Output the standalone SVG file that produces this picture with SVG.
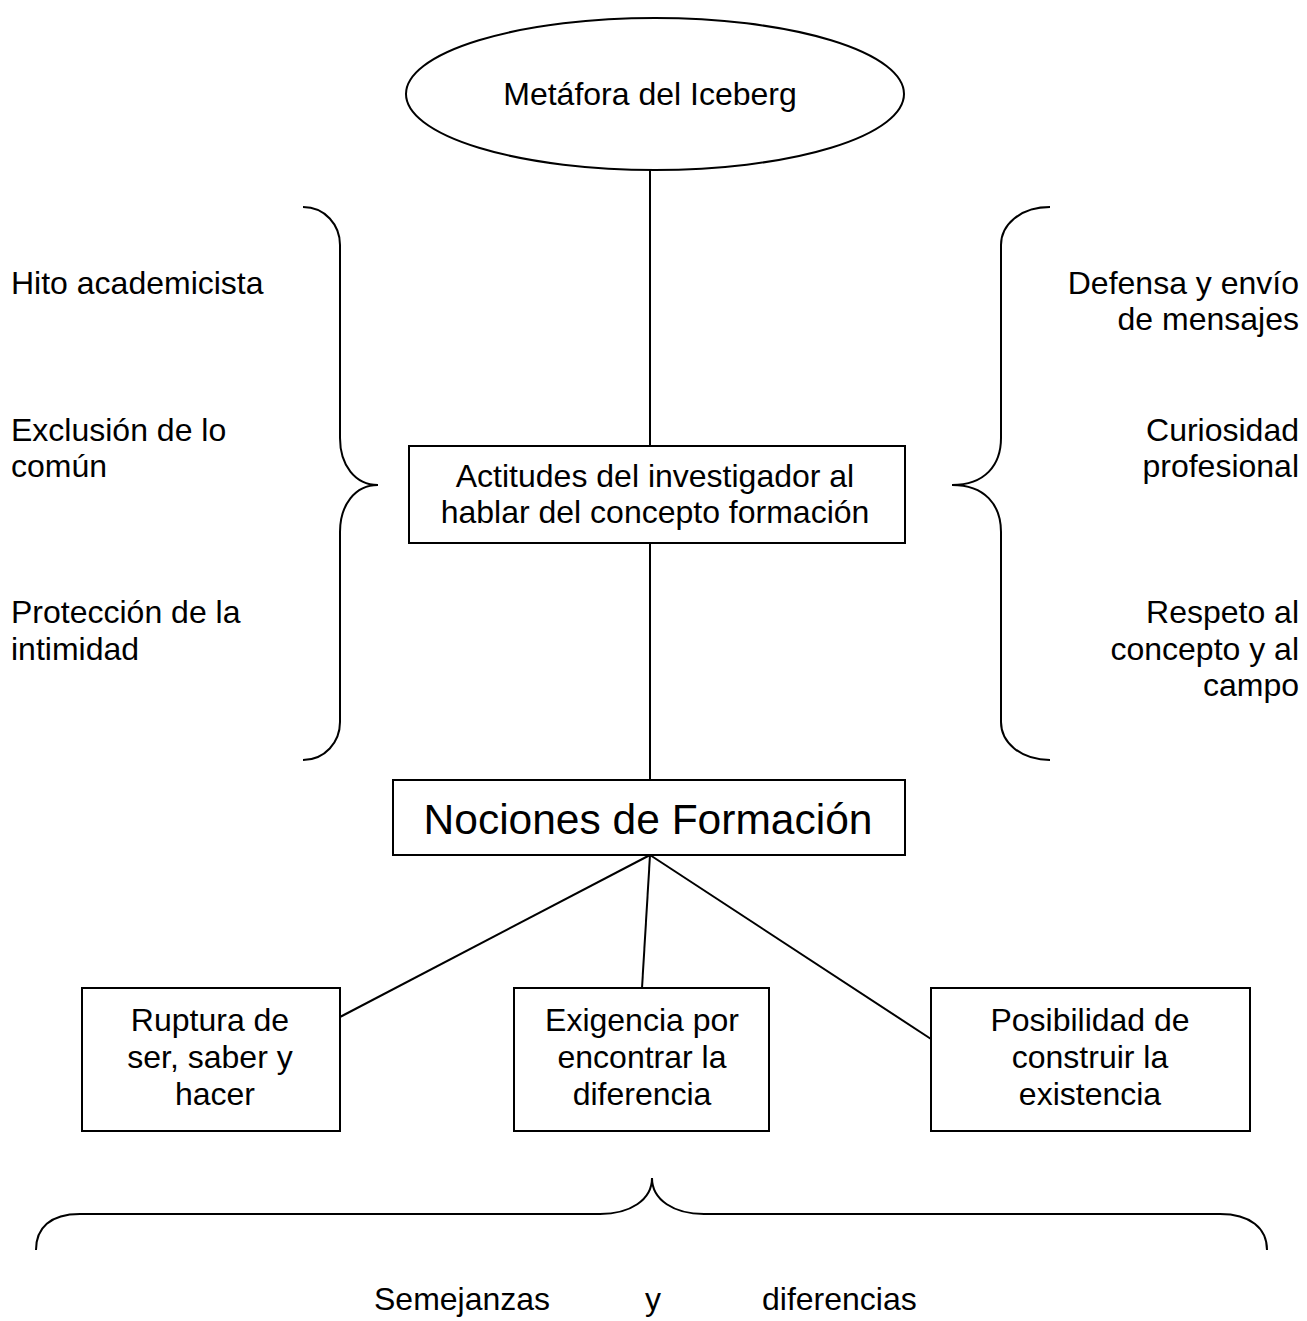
<svg xmlns="http://www.w3.org/2000/svg" width="1307" height="1321" viewBox="0 0 1307 1321">
<style>
.s{fill:none;stroke:#000;stroke-width:2}
.b{fill:#fff;stroke:#000;stroke-width:2}
text{font-family:"Liberation Sans",Arial,sans-serif;font-size:32px;fill:#000}
.c{text-anchor:middle}
.r{text-anchor:end}
</style>
<rect width="1307" height="1321" fill="#fff"/>
<g id="connectors">
<line class="s" x1="650" y1="170" x2="650" y2="446"/>
<line class="s" x1="650" y1="543" x2="650" y2="780"/>
<line class="s" x1="650" y1="855" x2="340" y2="1017"/>
<line class="s" x1="650" y1="855" x2="642" y2="988"/>
<line class="s" x1="650" y1="855" x2="931" y2="1039"/>
</g>
<g id="iceberg">
<ellipse class="b" cx="655" cy="94" rx="249" ry="76"/>
<text class="c" x="650" y="105">Metáfora del Iceberg</text>
</g>
<g id="actitudes">
<rect class="b" x="409" y="446" width="496" height="97"/>
<text class="c" x="655" y="487">Actitudes del investigador al</text>
<text class="c" x="655" y="523">hablar del concepto formación</text>
</g>
<g id="nociones">
<rect class="b" x="393" y="780" width="512" height="75"/>
<text class="c" x="648" y="834" style="font-size:42.5px">Nociones de Formación</text>
</g>
<g id="ruptura">
<rect class="b" x="82" y="988" width="258" height="143"/>
<text class="c" x="210" y="1031">Ruptura de</text>
<text class="c" x="210" y="1068">ser, saber y</text>
<text class="c" x="215" y="1105">hacer</text>
</g>
<g id="exigencia">
<rect class="b" x="514" y="988" width="255" height="143"/>
<text class="c" x="642" y="1031">Exigencia por</text>
<text class="c" x="642" y="1068">encontrar la</text>
<text class="c" x="642" y="1105">diferencia</text>
</g>
<g id="posibilidad">
<rect class="b" x="931" y="988" width="319" height="143"/>
<text class="c" x="1090" y="1031">Posibilidad de</text>
<text class="c" x="1090" y="1068">construir la</text>
<text class="c" x="1090" y="1105">existencia</text>
</g>
<g id="brace-left">
<path class="s" d="M303,207 C325,207 340,225 340,245 L340,438 C340,465 355,485 378,485 C355,485 340,505 340,532 L340,722 C340,742 325,760 303,760"/>
</g>
<g id="brace-right">
<path class="s" d="M1050,207 C1020,207 1001,225 1001,245 L1001,438 C1001,465 985,485 952,485 C985,485 1001,505 1001,532 L1001,722 C1001,742 1020,760 1050,760"/>
</g>
<g id="brace-bottom">
<path class="s" d="M36,1250 C36,1228 50,1214 80,1214 L600,1214 C630,1214 652,1200 652,1178 C652,1200 674,1214 704,1214 L1220,1214 C1250,1214 1267,1228 1267,1250"/>
</g>
<g id="left-labels">
<text x="11" y="294">Hito academicista</text>
<text x="11" y="441">Exclusión de lo</text>
<text x="11" y="477">común</text>
<text x="11" y="623">Protección de la</text>
<text x="11" y="660">intimidad</text>
</g>
<g id="right-labels">
<text class="r" x="1299" y="294">Defensa y envío</text>
<text class="r" x="1299" y="330">de mensajes</text>
<text class="r" x="1299" y="441">Curiosidad</text>
<text class="r" x="1299" y="477">profesional</text>
<text class="r" x="1299" y="623">Respeto al</text>
<text class="r" x="1299" y="660">concepto y al</text>
<text class="r" x="1299" y="696">campo</text>
</g>
<g id="bottom-label">
<text x="374" y="1310">Semejanzas</text>
<text x="645" y="1310">y</text>
<text x="762" y="1310">diferencias</text>
</g>
</svg>
